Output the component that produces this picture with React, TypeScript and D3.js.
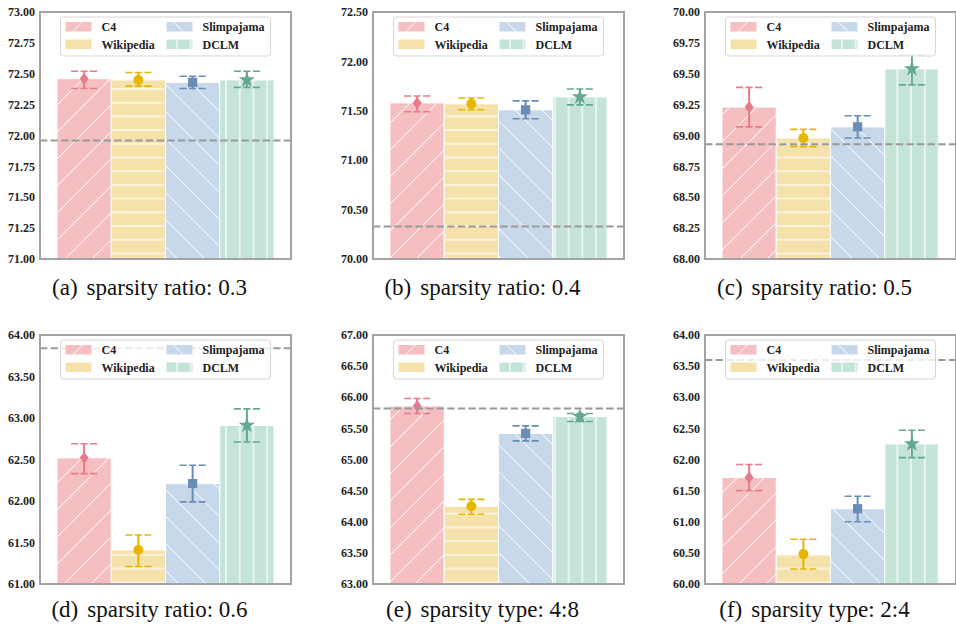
import React from "react";
import * as d3 from "d3";

const datasets = ["C4", "Wikipedia", "Slimpajama", "DCLM"];
const panelLetters = ["(a)", "(b)", "(c)", "(d)", "(e)", "(f)"];
const panelCaptions = [
  "sparsity ratio: 0.3",
  "sparsity ratio: 0.4",
  "sparsity ratio: 0.5",
  "sparsity ratio: 0.6",
  "sparsity type: 4:8",
  "sparsity type: 2:4",
];
const yMin = [71, 70, 68, 61, 63, 60];
const yMax = [73, 72.5, 70, 64, 67, 64];
const yStep = [0.25, 0.5, 0.25, 0.5, 0.5, 0.5];
// dense model reference (grey dashed line)
const denseBaseline = [71.96, 70.33, 68.93, 63.84, 65.82, 63.6];
// mean score per calibration dataset, one row per panel
const meanScores = [
  [72.46, 72.45, 72.43, 72.45],
  [71.58, 71.57, 71.51, 71.64],
  [69.23, 68.98, 69.07, 69.54],
  [62.52, 61.41, 62.21, 62.91],
  [65.86, 64.25, 65.42, 65.69],
  [61.71, 60.48, 61.21, 62.25],
];
const lowScores = [
  [72.38, 72.4, 72.38, 72.39],
  [71.49, 71.51, 71.42, 71.56],
  [69.07, 68.91, 68.98, 69.41],
  [62.33, 61.21, 61.99, 62.71],
  [65.74, 64.12, 65.3, 65.61],
  [61.5, 60.24, 61.0, 62.03],
];
const highScores = [
  [72.52, 72.51, 72.48, 72.52],
  [71.65, 71.63, 71.6, 71.72],
  [69.39, 69.05, 69.16, 69.65],
  [62.69, 61.59, 62.43, 63.11],
  [65.98, 64.36, 65.54, 65.74],
  [61.92, 60.72, 61.41, 62.47],
];

const fills = ["#f5bec1", "#f5e1aa", "#c8d8eb", "#c4e4d8"];
const markColors = ["#e97a8b", "#e5b700", "#6a8db6", "#62a892"];
const hatchIds = ["hatch-slash", "hatch-dash", "hatch-back", "hatch-vert"];

const colLeft = [40, 373, 705];
const rowTop = [12, 335];
const rowBottom = [259, 584];
const plotW = 251;
const titleBase = [295, 617];

const serif = "'Liberation Serif', 'Times New Roman', serif";

function Hatches() {
  const d = 27;
  const h = 13.7;
  return (
    <defs>
      <pattern id={hatchIds[0]} patternUnits="userSpaceOnUse" width={d} height={d}>
        <rect width={d} height={d} fill={fills[0]} />
        <path
          d={`M0,${d} L${d},0 M${-d / 4},${d / 4} L${d / 4},${-d / 4} M${(3 * d) / 4},${(5 * d) / 4} L${(5 * d) / 4},${(3 * d) / 4}`}
          stroke="#fff"
          strokeWidth={1}
        />
      </pattern>
      <pattern id={hatchIds[1]} patternUnits="userSpaceOnUse" width={h} height={h}>
        <rect width={h} height={h} fill={fills[1]} />
        <path d={`M0,${h / 2} H${h}`} stroke="#fff" strokeWidth={1.2} />
      </pattern>
      <pattern id={hatchIds[2]} patternUnits="userSpaceOnUse" width={d} height={d}>
        <rect width={d} height={d} fill={fills[2]} />
        <path
          d={`M0,0 L${d},${d} M${-d / 4},${(3 * d) / 4} L${d / 4},${(5 * d) / 4} M${(3 * d) / 4},${-d / 4} L${(5 * d) / 4},${d / 4}`}
          stroke="#fff"
          strokeWidth={1}
        />
      </pattern>
      <pattern id={hatchIds[3]} patternUnits="userSpaceOnUse" width={h} height={h}>
        <rect width={h} height={h} fill={fills[3]} />
        <path d={`M${h / 2},0 V${h}`} stroke="#fff" strokeWidth={1.2} />
      </pattern>
    </defs>
  );
}

function Marker({ i, cx, cy }: { i: number; cx: number; cy: number }) {
  const c = markColors[i];
  if (i === 0) {
    return <path d={`M${cx},${cy - 6} L${cx + 4.5},${cy} L${cx},${cy + 6} L${cx - 4.5},${cy} Z`} fill={c} />;
  }
  if (i === 1) return <circle cx={cx} cy={cy} r={5} fill={c} />;
  const sym = d3.symbol().type(i === 2 ? d3.symbolSquare : d3.symbolStar).size(i === 2 ? 85 : 80);
  return <path d={sym() || ""} transform={`translate(${cx},${cy})`} fill={c} />;
}

function Legend({ x, y }: { x: number; y: number }) {
  const colX = [5, 106];
  const rowY = [5, 22.5];
  return (
    <g transform={`translate(${x},${y})`}>
      <rect width={210} height={39} rx={3} fill="#fff" fillOpacity={0.8} stroke="#d6d6d6" strokeWidth={1} />
      {datasets.map((name, i) => {
        const cx = colX[i < 2 ? 0 : 1];
        const cy = rowY[i % 2];
        return (
          <g key={name}>
            <rect x={cx} y={cy} width={26} height={9.5} fill={`url(#${hatchIds[i]})`} />
            <text
              x={cx + 36}
              y={cy + 9}
              fontFamily={serif}
              fontWeight="bold"
              fontSize={12}
              fill="#222"
            >
              {name}
            </text>
          </g>
        );
      })}
    </g>
  );
}

function Panel({ p }: { p: number }) {
  const left = colLeft[p % 3];
  const row = p < 3 ? 0 : 1;
  const top = rowTop[row];
  const bottom = rowBottom[row];
  const x = d3.scaleBand<string>().domain(datasets).range([left, left + plotW]).paddingInner(0).paddingOuter(0.313);
  const y = d3.scaleLinear().domain([yMin[p], yMax[p]]).range([bottom, top]);
  const ticks = d3.range(yMin[p], yMax[p] + yStep[p] / 2, yStep[p]);
  const bw = x.bandwidth();
  const cx0 = left + plotW / 2 - 16;
  return (
    <g>
      {datasets.map((name, i) => (
        <rect
          key={name}
          x={x(name)}
          y={y(meanScores[p][i])}
          width={bw}
          height={bottom - y(meanScores[p][i])}
          fill={`url(#${hatchIds[i]})`}
          stroke="#fff"
          strokeWidth={1}
        />
      ))}
      {datasets.map((name, i) => {
        const cx = (x(name) || 0) + bw / 2;
        const yl = y(lowScores[p][i]);
        const yh = y(highScores[p][i]);
        const c = markColors[i];
        return (
          <g key={name}>
            <line x1={cx} x2={cx} y1={yl} y2={yh} stroke={c} strokeWidth={2} />
            {[yl, yh].map((yy, k) => (
              <line
                key={k}
                x1={cx - 13}
                x2={cx + 13}
                y1={yy}
                y2={yy}
                stroke={c}
                strokeWidth={1.6}
                strokeDasharray="7,2.5"
              />
            ))}
            <Marker i={i} cx={cx} cy={y(meanScores[p][i])} />
          </g>
        );
      })}
      <line
        x1={left}
        x2={left + plotW}
        y1={y(denseBaseline[p])}
        y2={y(denseBaseline[p])}
        stroke="#999"
        strokeWidth={2}
        strokeDasharray="7.4,3.2"
      />
      <Legend x={left + (plotW - 210) / 2} y={top + 5} />
      <rect x={left} y={top} width={plotW} height={bottom - top} fill="none" stroke="#a3a3a3" strokeWidth={2} />
      {ticks.map((t) => (
        <text
          key={t}
          x={left - 5}
          y={y(t)}
          dy="0.35em"
          textAnchor="end"
          fontFamily={serif}
          fontWeight="bold"
          fontSize={12}
          fill="#222"
        >
          {t.toFixed(2)}
        </text>
      ))}
      <text x={cx0} y={titleBase[row]} textAnchor="middle" fontFamily={serif} fontSize={23} fill="#111">
        <tspan>{panelLetters[p]}</tspan>
        <tspan dx={9}>{panelCaptions[p]}</tspan>
      </text>
    </g>
  );
}

export default function App() {
  return (
    <svg width={956} height={624} style={{ position: "absolute", left: 0, top: 0, background: "#fff" }}>
      <Hatches />
      {panelLetters.map((_, p) => (
        <Panel key={p} p={p} />
      ))}
    </svg>
  );
}
